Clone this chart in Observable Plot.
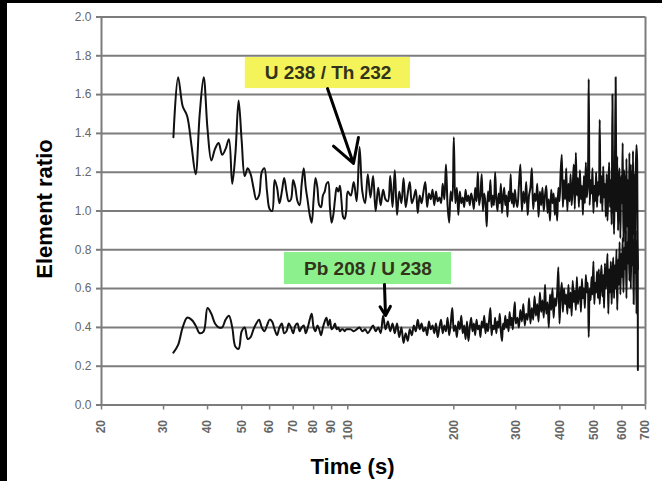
<!DOCTYPE html>
<html><head><meta charset="utf-8">
<script src="https://cdn.jsdelivr.net/npm/d3@7"></script>
<script src="https://cdn.jsdelivr.net/npm/@observablehq/plot@0.6"></script>
<style>
html,body{margin:0;padding:0;background:#fff;overflow:hidden;}
#wrap{position:relative;width:662px;height:481px;background:#fff;overflow:hidden;}
#edgeL{position:absolute;left:0;top:0;width:7px;height:481px;background:#000;}
#edgeT{position:absolute;left:0;top:0;width:662px;height:3px;background:#000;}
#chart{position:absolute;left:0;top:0;}
</style></head><body>
<div id="wrap"><div id="edgeL"></div><div id="edgeT"></div><div id="chart"></div></div>
<script>
// Time axis (s) – shared sampling of both ratios
const timeS = [
  32,33,34,35,36,37,38,39,40,41,
  42,43,44,45,46,47,48,49,50,51,
  52,53,54,55,56,57,58,59,60,61,
  62,63,64,65,66,67,68,69,70,71,
  72,73,74,75,76,77,78,79,80,81,
  82,83,84,85,86,87,88,89,90,91,
  92,93,94,95,96,97,98,99,100,
  102,104,106,108,110,112,114,116,118,120,
  122,124,126,128,130,132,134,136,138,140,
  142,144,146,148,150,152,154,156,158,160,
  162,164,166,168,170,172,174,176,178,180,
  182,184,186,188,190,192,194,196,198,200,
  202,204,206,208,210,212,214,216,218,220,
  222,224,226,228,230,232,234,236,238,240,
  242,244,246,248,250,252,254,256,258,260,
  262,264,266,268,270,272,274,276,278,280,
  282,284,286,288,290,292,294,296,298,300,
  303,306,309,312,315,318,321,324,327,330,
  333,336,339,342,345,348,351,354,357,360,
  363,366,369,372,375,378,381,384,387,390,
  393,396,399,402,405,408,411,414,417,420,
  423,426,429,432,435,438,441,444,447,450,
  453,456,459,462,465,468,471,474,477,480,
  483,486,489,492,495,498,501,504,507,510,
  513,516,519,522,525,528,531,534,537,540,
  543,546,549,552,555,558,561,564,567,570,
  573,576,579,582,585,588,591,594,597,600,
  603,606,609,612,615,618,621,624,627,630,
  633,636,639,642,645,648,651,654,657,660,
  663,666
];

// U 238 / Th 232 element ratio
const u238Th232 = [
  1.38,1.69,1.54,1.49,1.34,1.19,1.50,1.69,1.42,1.26,
  1.32,1.35,1.29,1.32,1.37,1.14,1.30,1.57,1.36,1.18,
  1.22,1.19,1.12,1.06,1.08,1.20,1.22,1.10,1.01,1.00,
  1.16,1.12,1.04,1.10,1.17,1.10,1.05,1.06,1.16,1.12,
  1.05,1.03,1.14,1.22,1.12,1.05,0.98,0.94,1.06,1.17,
  1.12,1.03,1.02,1.08,1.10,1.14,1.15,1.02,0.94,0.98,
  1.06,1.12,1.10,1.13,1.05,0.97,0.96,1.00,1.10,
  1.08,1.15,1.05,1.33,1.10,1.04,1.19,1.07,1.18,1.00,
  1.12,1.03,1.11,1.06,1.05,1.18,1.02,1.21,0.98,1.10,
  1.04,1.17,1.02,1.09,1.15,1.04,1.07,1.11,0.99,1.08,
  1.04,1.10,1.15,1.02,1.09,1.06,1.11,1.03,1.10,1.05,
  1.07,1.04,1.14,1.06,1.24,1.03,0.94,1.10,1.05,1.38,
  1.04,1.12,0.98,1.10,1.04,1.07,1.02,1.11,1.05,1.08,
  1.03,1.09,1.06,1.01,1.12,1.05,1.20,1.03,1.08,1.19,
  1.00,1.09,1.04,0.92,1.10,1.05,1.16,1.02,1.08,1.03,
  1.20,1.06,1.00,1.09,1.04,1.14,0.99,1.07,1.12,1.03,
  1.08,0.97,1.10,1.05,1.19,1.04,1.09,1.02,1.11,1.06,
  1.02,1.13,1.24,1.00,1.10,1.04,1.15,0.98,1.08,1.12,
  1.22,1.01,1.09,1.05,1.14,0.97,1.10,1.03,1.12,1.00,
  1.08,1.13,0.99,1.06,0.95,1.11,1.04,1.09,0.98,1.07,
  0.95,1.12,1.05,1.20,1.29,1.02,1.16,1.06,1.22,1.00,
  1.14,1.05,1.19,1.03,1.12,1.24,1.01,1.30,1.08,1.17,
  1.02,1.21,1.06,1.13,0.98,1.18,1.04,1.25,1.07,1.14,
  1.68,1.03,1.16,1.09,1.22,0.99,1.13,1.05,1.20,1.02,
  1.15,1.08,1.47,1.04,1.18,1.00,1.23,1.07,1.14,0.97,
  1.19,0.95,1.12,1.25,1.02,1.16,0.93,1.60,1.05,0.88,
  1.20,1.69,1.00,1.28,0.90,1.15,1.22,0.86,1.18,1.04,
  1.35,0.84,1.21,1.10,0.80,1.27,0.92,1.16,0.78,1.30,
  0.83,1.24,1.05,0.76,1.31,0.88,1.19,0.74,1.22,1.34,
  1.25,0.18
];

// Pb 208 / U 238 element ratio
const pb208U238 = [
  0.27,0.31,0.40,0.45,0.44,0.41,0.37,0.38,0.50,0.47,
  0.42,0.40,0.40,0.44,0.46,0.40,0.30,0.29,0.38,0.40,
  0.34,0.35,0.39,0.42,0.44,0.40,0.38,0.41,0.44,0.43,
  0.39,0.36,0.40,0.42,0.37,0.38,0.42,0.40,0.37,0.41,
  0.42,0.38,0.40,0.41,0.37,0.40,0.44,0.47,0.40,0.38,
  0.41,0.39,0.36,0.40,0.43,0.45,0.41,0.44,0.39,0.40,
  0.42,0.39,0.40,0.38,0.39,0.39,0.38,0.39,0.39,
  0.39,0.38,0.39,0.40,0.38,0.39,0.37,0.39,0.41,0.38,
  0.40,0.37,0.46,0.39,0.43,0.38,0.42,0.37,0.42,0.35,
  0.40,0.32,0.37,0.33,0.39,0.36,0.41,0.38,0.44,0.39,
  0.42,0.38,0.40,0.36,0.43,0.39,0.41,0.37,0.42,0.35,
  0.40,0.44,0.37,0.41,0.38,0.45,0.36,0.42,0.50,0.38,
  0.41,0.35,0.43,0.39,0.46,0.37,0.41,0.34,0.43,0.33,
  0.40,0.45,0.38,0.42,0.36,0.44,0.39,0.41,0.35,0.43,
  0.40,0.46,0.37,0.42,0.38,0.44,0.50,0.36,0.41,0.39,
  0.45,0.37,0.43,0.40,0.47,0.38,0.33,0.42,0.39,0.46,
  0.40,0.44,0.38,0.48,0.41,0.45,0.39,0.47,0.53,0.42,
  0.45,0.40,0.49,0.43,0.52,0.41,0.47,0.44,0.55,0.42,
  0.50,0.44,0.56,0.46,0.52,0.43,0.58,0.48,0.54,0.45,
  0.62,0.47,0.53,0.40,0.57,0.49,0.60,0.45,0.55,0.51,
  0.58,0.71,0.42,0.56,0.63,0.48,0.60,0.52,0.57,0.47,
  0.62,0.50,0.58,0.46,0.64,0.53,0.59,0.49,0.66,0.52,
  0.57,0.61,0.48,0.65,0.55,0.60,0.50,0.67,0.58,0.63,
  0.35,0.60,0.54,0.66,0.57,0.74,0.52,0.63,0.58,0.69,
  0.55,0.70,0.52,0.64,0.72,0.56,0.67,0.50,0.73,0.60,
  0.65,0.78,0.47,0.70,0.58,0.74,0.52,0.68,0.76,0.55,
  0.72,0.60,0.80,0.49,0.75,0.62,0.84,0.57,0.78,0.66,
  0.86,0.58,0.81,0.70,0.90,0.55,0.84,0.73,0.92,0.64,
  0.88,0.60,0.94,0.72,0.85,0.52,0.96,0.68,0.90,0.47,
  0.85,0.70
];

// Axis ticks
const xTicks = [20,30,40,50,60,70,80,90,100,200,300,400,500,600,700];
const yTicks = [0,0.2,0.4,0.6,0.8,1.0,1.2,1.4,1.6,1.8,2.0];

// Annotations
const labelText = ["U 238 / Th 232", "Pb 208 / U 238"];
const labelFill = ["#f4f45a", "#8cf08c"];
const boxX1 = [51.2, 66.1], boxX2 = [150.7, 197];
const boxY1 = [1.631, 0.621], boxY2 = [1.791, 0.786];
const labelX = [87.9, 114.1], labelY = [1.711, 0.704];
const arrowX1 = [87.6, 127.1], arrowY1 = [1.631, 0.621];
const arrowX2 = [103.8, 128.0], arrowY2 = [1.245, 0.461];

const data = timeS.map((t, i) => ({t, u: u238Th232[i], p: pb208U238[i]}));
const boxes = labelText.map((s, i) => ({s, fill: labelFill[i], x1: boxX1[i], x2: boxX2[i], y1: boxY1[i], y2: boxY2[i], x: labelX[i], y: labelY[i]}));
const arrows = labelText.map((s, i) => ({x1: arrowX1[i], y1: arrowY1[i], x2: arrowX2[i], y2: arrowY2[i]}));

const grid = "#7c7c7c";
const chart = Plot.plot({
  width: 662, height: 481,
  marginLeft: 101, marginRight: 17, marginTop: 16.5, marginBottom: 76.5,
  style: {background: "transparent", fontFamily: "'Liberation Sans', Arial, sans-serif", overflow: "visible"},
  x: {type: "log", domain: [20, 700]},
  y: {domain: [0, 2]},
  marks: [
    Plot.gridY(yTicks, {stroke: grid, strokeOpacity: 1, strokeWidth: 2}),
    Plot.ruleX([20, 700], {stroke: grid, strokeWidth: 2}),
    Plot.axisY(yTicks, {tickFormat: d3.format(".1f"), tickSize: 5, tickPadding: 5, fontSize: 12, fill: "#666", stroke: grid, strokeWidth: 2, label: null}),
    Plot.axisX(xTicks, {tickFormat: () => "", tickSize: 5, stroke: grid, strokeWidth: 1.5, label: null}),
    Plot.text(xTicks, {x: d => d, frameAnchor: "bottom", text: d => String(d), rotate: -90, textAnchor: "end", lineAnchor: "middle", dy: 15, fontSize: 12, fontWeight: "bold", fill: "#666"}),
    Plot.line(data, {x: "t", y: "u", curve: "catmull-rom", stroke: "#111", strokeWidth: 2}),
    Plot.line(data, {x: "t", y: "p", curve: "catmull-rom", stroke: "#111", strokeWidth: 2}),
    Plot.rect(boxes, {x1: "x1", x2: "x2", y1: "y1", y2: "y2", fill: "fill"}),
    Plot.text(boxes, {x: "x", y: "y", text: "s", fontSize: 19, fontWeight: "bold", fill: "#33331a"}),
    Plot.arrow(arrows, {x1: "x1", y1: "y1", x2: "x2", y2: "y2", stroke: "#000", strokeWidth: 3, headLength: 14}),
    Plot.text(["Element ratio"], {frameAnchor: "left", textAnchor: "middle", lineAnchor: "middle", dx: -57, dy: -2, rotate: -90, fontSize: 22, fontWeight: "bold", fill: "#000"}),
    Plot.text(["Time (s)"], {frameAnchor: "bottom", textAnchor: "middle", lineAnchor: "middle", dx: -21, dy: 61.5, fontSize: 22, fontWeight: "bold", fill: "#000"})
  ]
});
document.getElementById("chart").appendChild(chart);
</script>
</body></html>
